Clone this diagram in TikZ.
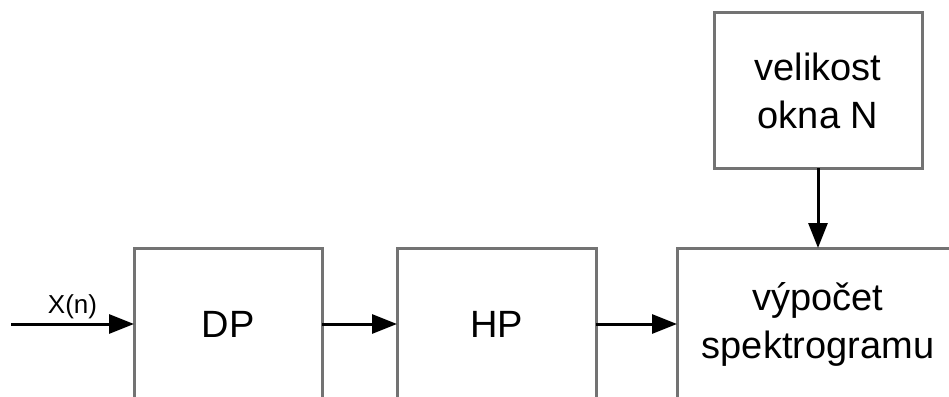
\documentclass[tikz,border=0pt]{standalone}
\usepackage{fontspec}
\setmainfont{Liberation Sans}
\usetikzlibrary{arrows.meta,positioning}
\tikzset{block/.style={draw=black!55,line width=3pt,outer sep=0pt,align=center,minimum height=152pt,font=\fontsize{38}{48}\selectfont},edge/.style={-{Triangle[length=25pt,width=19pt]},line width=3pt,draw=black}}

\begin{document}
\begin{tikzpicture}[x=1pt,y=-1pt]
\clip (0,0) rectangle (949,396);
\node[block,minimum width=188pt](dp) at (228,324){DP};
\node[block,minimum width=199pt,right=75pt of dp](hp){HP};
\node[block,minimum width=282pt,right=81pt of hp](spec){výpočet\\spektrogramu};
\node[block,minimum width=208pt,minimum height=155pt,above=80pt of spec](okno){velikost\\okna N};
\coordinate (in) at (11,324);
\draw[edge](in)--node[above,font=\fontsize{26}{30}\selectfont]{X(n)}(dp);
\draw[edge](dp)--(hp);\draw[edge](hp)--(spec);
\draw[edge](okno)--(spec);
\end{tikzpicture}
\end{document}
